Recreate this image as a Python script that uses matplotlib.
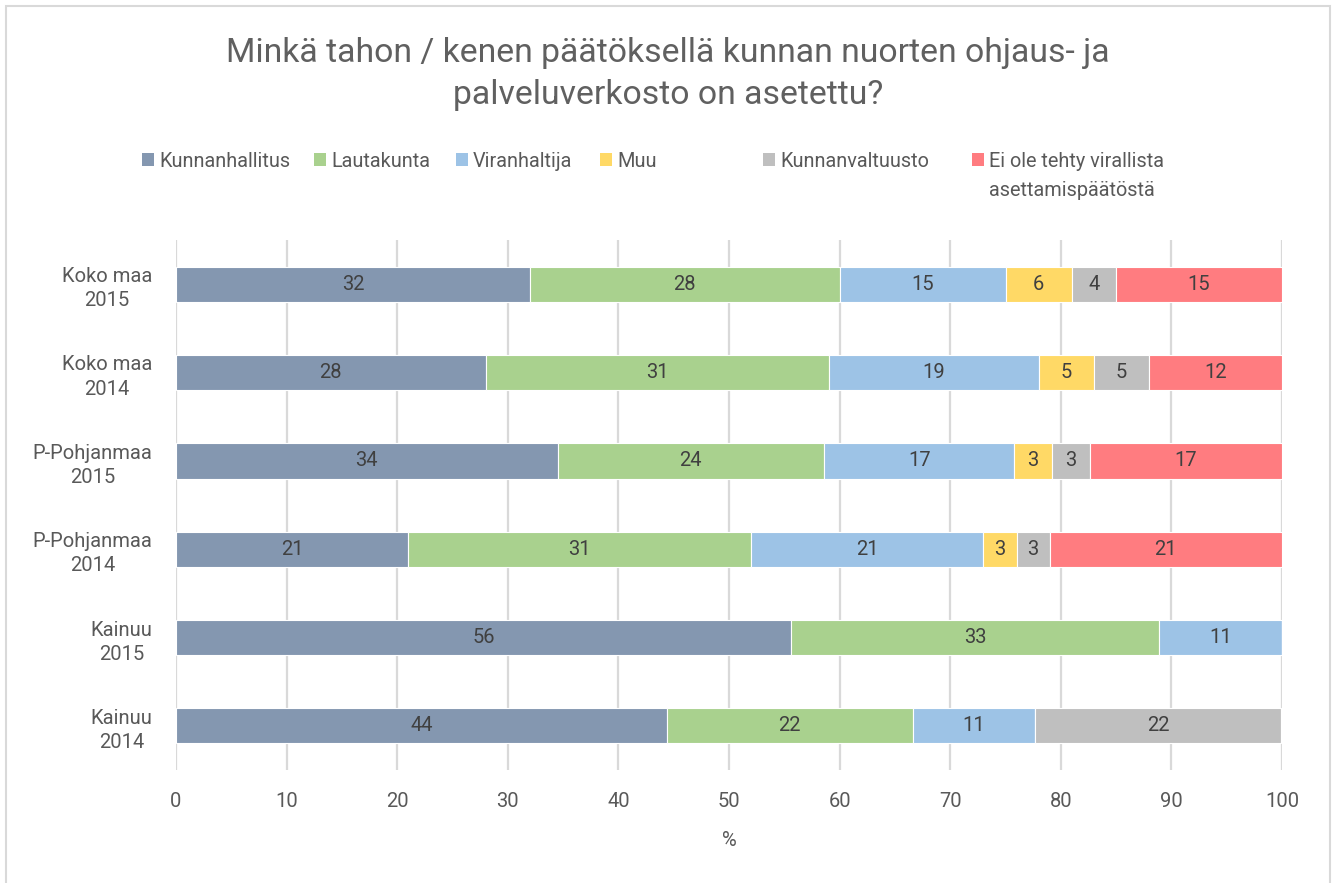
import numpy as np
import matplotlib
matplotlib.use("Agg")
import matplotlib.pyplot as plt
from matplotlib.patches import Rectangle

# data (percent shares)
categories = ["Koko maa\n2015", "Koko maa\n2014", "P-Pohjanmaa\n2015",
              "P-Pohjanmaa\n2014", "Kainuu\n2015", "Kainuu\n2014"]
series_names = ["Kunnanhallitus", "Lautakunta", "Viranhaltija", "Muu",
                "Kunnanvaltuusto", "Ei ole tehty virallista\nasettamispäätöstä"]
kunnanhallitus = [32, 28, 34.5, 21, 55.6, 44.4]
lautakunta = [28, 31, 24.1, 31, 33.3, 22.2]
viranhaltija = [15, 19, 17.2, 21, 11.1, 11.1]
muu = [6, 5, 3.4, 3, 0, 0]
kunnanvaltuusto = [4, 5, 3.4, 3, 0, 22.2]
ei_paatosta = [15, 12, 17.4, 21, 0, 0]
xticks = list(range(0, 101, 10))

colors = ["#8497B0", "#A9D18E", "#9DC3E6", "#FFD966", "#BFBFBF", "#FF7C80"]
values = [kunnanhallitus, lautakunta, viranhaltija, muu, kunnanvaltuusto, ei_paatosta]

plt.rcParams['font.family'] = ['Roboto', 'DejaVu Sans']
plt.rcParams['font.weight'] = 'normal'

W, H = 1335, 883
fig = plt.figure(figsize=(W / 100, H / 100), dpi=100)
ax = fig.add_axes([176 / W, 113 / H, 1106 / W, 530 / H])

y = np.arange(len(categories))
left = np.zeros(len(categories))
for name, vals, col in zip(series_names, values, colors):
    vals = np.array(vals, dtype=float)
    ax.barh(y, vals, left=left, height=0.4, color=col, edgecolor='white',
            linewidth=0.8, zorder=3)
    for yi, (l, v) in enumerate(zip(left, vals)):
        if v > 0:
            ax.text(l + v / 2, yi, f"{v:.0f}", ha='center', va='center',
                    fontsize=14.5, color='#404040', zorder=4)
    left += vals

ax.set_xlim(0, 100)
ax.set_ylim(len(categories) - 0.5, -0.5)
ax.set_xticks(xticks)
ax.set_yticks(y)
ax.set_yticklabels(categories, linespacing=1.35, fontweight='normal')
for t in ax.get_yticklabels():
    t.set_multialignment('center')
ax.tick_params(axis='both', length=0, labelsize=14.5, labelcolor='#595959')
ax.tick_params(axis='x', pad=16)
ax.tick_params(axis='y', pad=17)
ax.xaxis.grid(True, color='#d9d9d9', linewidth=1.6, zorder=0)
ax.set_axisbelow(True)
for s in ax.spines.values():
    s.set_visible(False)
ax.set_xlabel('%', fontsize=14.5, color='#595959', labelpad=14)

# title
fig.text(668 / W, 1 - 74 / H,
         "Minkä tahon / kenen päätöksellä kunnan nuorten ohjaus- ja\npalveluverkosto on asetettu?",
         ha='center', va='center', fontsize=24.3, color='#606060',
         linespacing=1.38)

# legend
sq_x = [142, 314, 456, 600, 763, 972]
for x0, name, col in zip(sq_x, series_names, colors):
    fig.add_artist(Rectangle((x0 / W, 1 - 166 / H), 12 / W, 13 / H,
                             transform=fig.transFigure, facecolor=col,
                             edgecolor='none'))
    first, _, rest = name.partition("\n")
    fig.text((x0 + 17) / W, 1 - 167 / H, first, ha='left', va='baseline',
             fontsize=14.3, color='#595959')
    if rest:
        fig.text((x0 + 17) / W, 1 - 196 / H, rest, ha='left', va='baseline',
                 fontsize=14.3, color='#595959')

# chart border
fig.add_artist(Rectangle((5.5 / W, -0.1), 1324 / W, 0.1 + (H - 6.5) / H,
                         transform=fig.transFigure, facecolor='none',
                         edgecolor='#d9d9d9', linewidth=1.5, clip_on=False))

fig.savefig('out.png', dpi=100)
